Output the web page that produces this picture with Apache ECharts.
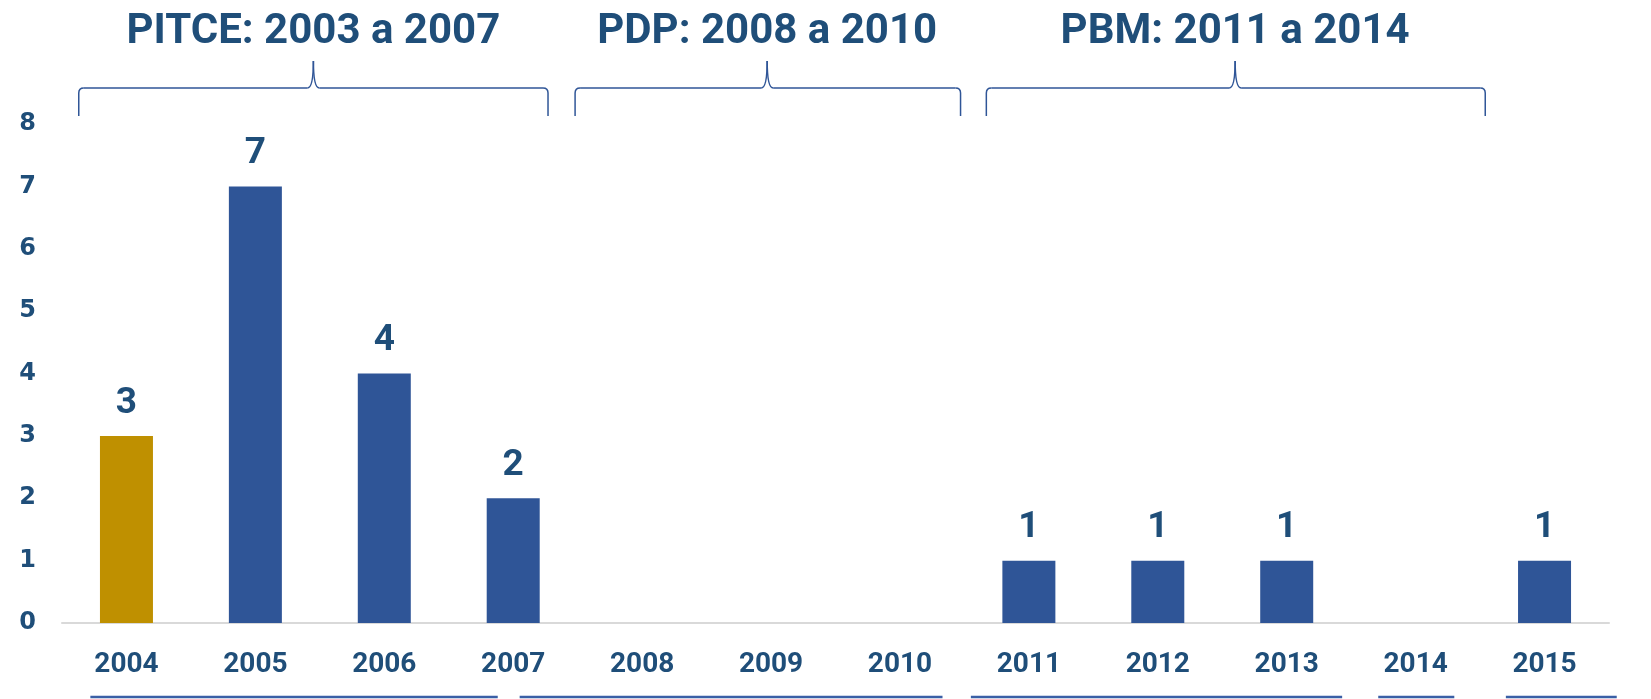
<!DOCTYPE html>
<html>
<head>
<meta charset="utf-8">
<script src="https://cdn.jsdelivr.net/npm/echarts@6/dist/echarts.min.js"></script>
<style>
    html, body { margin: 0; padding: 0; background: #fff; }
    #main { width: 1651px; height: 699px; }
</style>
</head>
<body>
<div id="main"></div>
<script>
// dados
var years = ['2004', '2005', '2006', '2007', '2008', '2009', '2010', '2011', '2012', '2013', '2014', '2015'];
var counts = [3, 7, 4, 2, 0, 0, 0, 1, 1, 1, 0, 1];
var highlightYear = '2004';
var yMax = 8;
var yStep = 1;

// periodos (posicoes em unidades de categoria)
var periodNames = ['PITCE: 2003 a 2007', 'PDP: 2008 a 2010', 'PBM: 2011 a 2014'];
var periodFrom = [-0.37, 3.48, 6.67];
var periodMid = [1.45, 4.97, 8.60];
var periodTo = [3.27, 6.47, 10.54];
var underFrom = [-0.28, 3.05, 6.55, 9.71, 10.70];
var underTo = [2.88, 6.33, 9.43, 10.30, 11.56];

var navy = '#1F4E79';
var blue = '#2F5597';
var gold = '#BF9000';

var chart = echarts.init(document.getElementById('main'));

var option = {
    animation: false,
    backgroundColor: '#fff',
    grid: { left: 62, right: 42, top: 124, bottom: 76 },
    xAxis: {
        type: 'category',
        data: years,
        axisLine: { lineStyle: { color: '#D9D9D9', width: 2 } },
        axisTick: { show: false },
        axisLabel: {
            color: navy,
            fontFamily: 'Roboto',
            fontWeight: 'bold',
            fontSize: 28,
            margin: 28
        }
    },
    yAxis: {
        type: 'value',
        min: 0,
        max: yMax,
        interval: yStep,
        axisLine: { show: false },
        axisTick: { show: false },
        splitLine: { show: false },
        axisLabel: {
            color: navy,
            fontFamily: 'DejaVu Sans',
            fontWeight: 'bold',
            fontSize: 24,
            margin: 26
        }
    },
    series: [{
        type: 'bar',
        data: counts,
        barWidth: 53,
        itemStyle: {
            color: function (p) { return p.name === highlightYear ? gold : blue; }
        },
        label: {
            show: true,
            position: 'top',
            distance: 14,
            color: navy,
            fontFamily: 'Roboto',
            fontWeight: 'bold',
            fontSize: 37,
            formatter: function (p) { return p.value ? String(p.value) : ''; }
        }
    }]
};
chart.setOption(option);

//posicoes das chaves e sublinhados
var x0 = chart.convertToPixel({ xAxisIndex: 0 }, 0);
var band = chart.convertToPixel({ xAxisIndex: 0 }, 1) - x0;
function px(v) { return x0 + v * band; }
var topY = chart.convertToPixel({ yAxisIndex: 0 }, yMax);
var baseY = chart.convertToPixel({ yAxisIndex: 0 }, 0);

var endY = topY - 8, barY = topY - 36, peakY = topY - 63, titleY = topY - 92;
var underY = baseY + 74;
var braceStyle = { stroke: blue, lineWidth: 1.5, fill: null };

function seg(x1, y1, x2, y2) {
    return { type: 'line', silent: true, shape: { x1: x1, y1: y1, x2: x2, y2: y2 }, style: braceStyle };
}
function curve(x1, y1, cx, cy, x2, y2) {
    return { type: 'bezierCurve', silent: true, shape: { x1: x1, y1: y1, cpx1: cx, cpy1: cy, x2: x2, y2: y2 }, style: braceStyle };
}
function brace(a, m, b) {
    var r = 5, k = 6;
    return [
        seg(a, endY, a, barY + r),
        curve(a, barY + r, a, barY, a + r, barY),
        seg(a + r, barY, m - k, barY),
        curve(m - k, barY, m, barY, m, peakY),
        curve(m, peakY, m, barY, m + k, barY),
        seg(m + k, barY, b - r, barY),
        curve(b - r, barY, b, barY, b, barY + r),
        seg(b, barY + r, b, endY)
    ];
}

var graphics = [];
for (var i = 0; i < periodNames.length; i++) {
    graphics = graphics.concat(brace(px(periodFrom[i]), px(periodMid[i]), px(periodTo[i])));
    graphics.push({
        type: 'text',
        silent: true,
        x: px(periodMid[i]),
        y: titleY,
        style: {
            text: periodNames[i],
            fill: navy,
            font: 'bold 42px Roboto',
            align: 'center',
            verticalAlign: 'middle',
            textAlign: 'center',
            textVerticalAlign: 'middle'
        }
    });
}
for (var j = 0; j < underFrom.length; j++) {
    graphics.push({
        type: 'line',
        silent: true,
        shape: { x1: px(underFrom[j]), y1: underY, x2: px(underTo[j]), y2: underY },
        style: { stroke: '#3A5FA6', lineWidth: 2.5 }
    });
}
chart.setOption({ graphic: graphics });
</script>
</body>
</html>
